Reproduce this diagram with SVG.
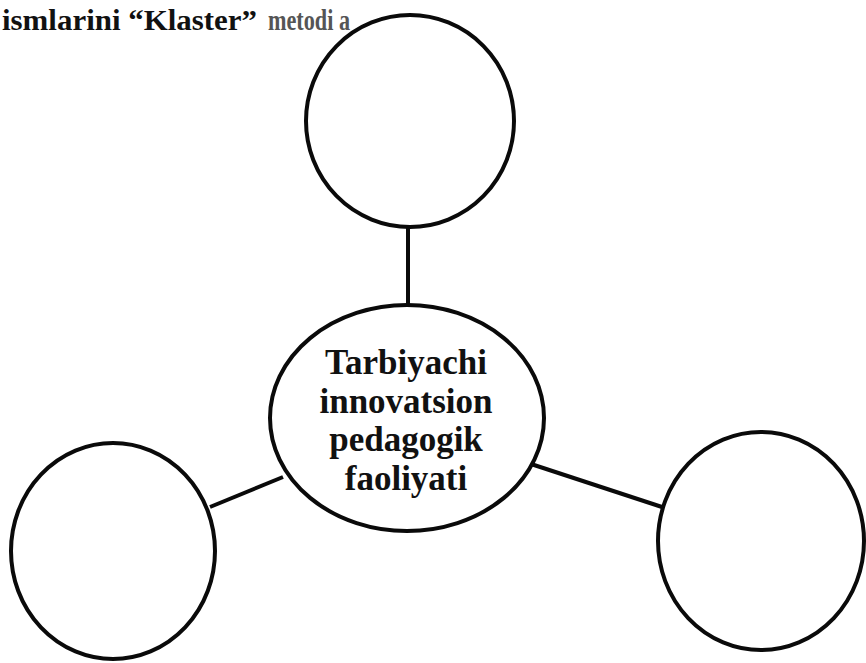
<svg xmlns="http://www.w3.org/2000/svg" width="866" height="663" viewBox="0 0 866 663">
<style>
.node{fill:#fff;stroke:#0a0a0a;stroke-width:4}
.edge{stroke:#0a0a0a;stroke-width:4;fill:none}
.lbl{font-family:"Liberation Serif","Times New Roman",serif;font-weight:bold;font-size:35px;fill:#111;text-anchor:middle}
.hdr{font-family:"Liberation Serif","Times New Roman",serif;font-weight:bold;font-size:30px;fill:#111}
</style>
<rect width="866" height="663" fill="#fff"/>
<g id="header">
<text class="hdr" x="2" y="30" textLength="255" lengthAdjust="spacingAndGlyphs">ismlarini “Klaster”</text>
<text class="hdr" x="268" y="30" fill="#555" style="fill:#555" textLength="82" lengthAdjust="spacingAndGlyphs">metodi a</text>
</g>
<g id="connectors">
<line class="edge" x1="408" y1="228" x2="408" y2="305"/>
<line class="edge" x1="210" y1="507" x2="283" y2="477"/>
<line class="edge" x1="531" y1="464" x2="662" y2="507"/>
</g>
<g id="node-top"><ellipse class="node" cx="410" cy="121" rx="104" ry="106"/></g>
<g id="node-center">
<ellipse class="node" cx="407" cy="418" rx="137" ry="113"/>
<text class="lbl" x="406" y="374">Tarbiyachi</text>
<text class="lbl" x="406" y="413">innovatsion</text>
<text class="lbl" x="406" y="451">pedagogik</text>
<text class="lbl" x="406" y="490">faoliyati</text>
</g>
<g id="node-left"><ellipse class="node" cx="113" cy="551" rx="102" ry="108"/></g>
<g id="node-right"><ellipse class="node" cx="761" cy="541" rx="103" ry="109"/></g>
</svg>
